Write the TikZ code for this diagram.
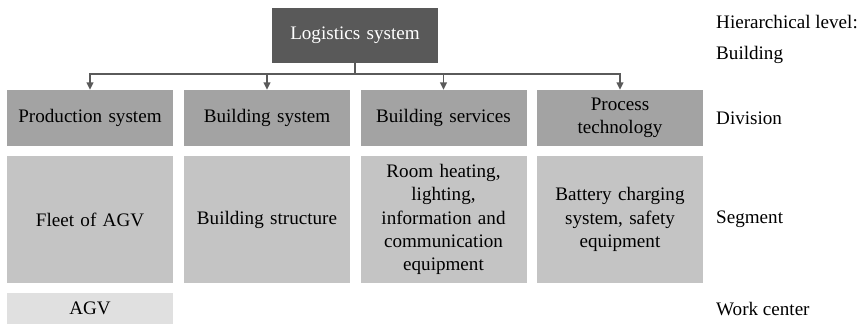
\documentclass[tikz,border=0pt]{standalone}
\usepackage{fontspec}
\setmainfont{Liberation Serif}
\usetikzlibrary{arrows.meta}
\definecolor{topgray}{HTML}{595959}
\definecolor{divgray}{HTML}{A3A3A3}
\definecolor{seggray}{HTML}{C4C4C4}
\definecolor{wcgray}{HTML}{E0E0E0}
\definecolor{linegray}{HTML}{5A5A5A}
\begin{document}
\begin{tikzpicture}[x=1pt,y=-1pt,
  every node/.style={font=\fontsize{19.1}{23.3}\selectfont, inner sep=0pt},
  box/.style={rectangle, minimum width=166pt, text width=160pt, align=center},
  rootbox/.style={box, fill=topgray, text=white, minimum height=55pt},
  divbox/.style={box, fill=divgray, minimum height=56pt},
  segbox/.style={box, fill=seggray, minimum height=127pt},
  wcbox/.style={box, fill=wcgray, minimum height=31pt},
  levellabel/.style={anchor=west},
  link/.style={draw=linegray, line width=1.4pt, -{Triangle[width=7pt,length=7.5pt]}}
]
\useasboundingbox (0,0) rectangle (866,324);

% root
\node[rootbox] (root) at (355,35.5) {Logistics system};

% division level
\node[divbox] (d1) at (90,118) {Production system};
\node[divbox] (d2) at (267,118) {Building system};
\node[divbox] (d3) at (443.5,118) {Building services};
\node[divbox] (d4) at (620,118) {Process\\technology};

% segment level
\node[segbox] (s1) at (90,219.5) {Fleet of AGV};
\node[segbox] (s2) at (267,219.5) {Building structure};
\node[segbox] (s3) at (443.5,219.5) {Room heating,\\lighting,\\information and\\communication\\equipment};
\node[segbox] (s4) at (620,219.5) {Battery charging\\system, safety\\equipment};

% work center level
\node[wcbox] (w1) at (90,308.5) {AGV};

% hierarchy labels
\node[levellabel] (lh) at (716,22) {Hierarchical level:};
\node[levellabel] (lb) at (716,55) {Building};
\node[levellabel] (ld) at (716,118) {Division};
\node[levellabel] (ls) at (716,219.5) {Segment};
\node[levellabel] (lw) at (716,309) {Work center};

% connectors
\coordinate (bus) at (355,74);
\draw[draw=linegray, line width=1.4pt] (root.south) -- (bus);
\foreach \d in {d1,d2,d3,d4}
  \draw[link] (bus) -| (\d.north);
\end{tikzpicture}
\end{document}
